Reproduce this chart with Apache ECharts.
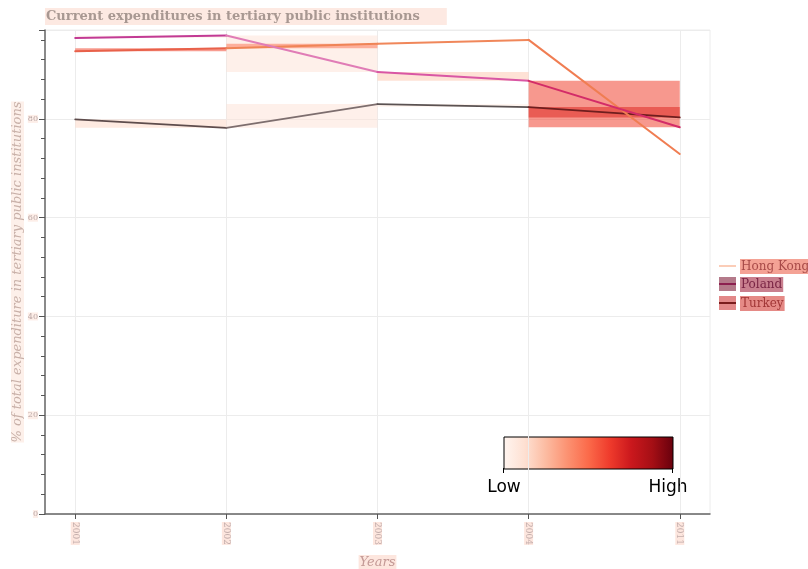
<!DOCTYPE html>
<html><head><meta charset="utf-8">
<script src="https://cdn.jsdelivr.net/npm/echarts@6/dist/echarts.min.js"></script>
<style>html,body{margin:0;padding:0;background:#fff}#c{width:808px;height:569px}</style>
</head><body><div id="c"></div>
<script>
const years = ['2001', '2002', '2003', '2004', '2011'];
const countries = ['Hong Kong', 'Poland', 'Turkey'];
const hongKong = [93.7, 94.3, 95.2, 96.0, 72.9];
const poland = [96.4, 96.9, 89.5, 87.7, 78.3];
const turkey = [79.9, 78.2, 83.0, 82.4, 80.3];
// shading intensity (0 = Low .. 1 = High) of the band between consecutive years
const hongKongShade = [0.58, 0.45, 0, 0];
const polandShade = [0.05, 0.1, 0.2, 0.6];
const turkeyShade = [0.15, 0.1, 0.04, 0.68];

const redsStops = ['#fff5f0', '#fee0d2', '#fcbba1', '#fc9272', '#fb6a4a', '#ef3b2c', '#cb181d', '#a50f15', '#67000d'];
function hex2rgb(h) { return [1, 3, 5].map(i => parseInt(h.substr(i, 2), 16)); }
function reds(t, a) {
  const n = redsStops.length - 1;
  const f = Math.max(0, Math.min(1, t)) * n;
  const i = Math.min(n - 1, Math.floor(f));
  const k = f - i;
  const c0 = hex2rgb(redsStops[i]), c1 = hex2rgb(redsStops[i + 1]);
  const c = c0.map((v, j) => Math.round(v + (c1[j] - v) * k));
  return 'rgba(' + c.join(',') + ',' + a + ')';
}

const seriesVals = { 'Hong Kong': hongKong, 'Poland': poland, 'Turkey': turkey };
const seriesShade = { 'Hong Kong': hongKongShade, 'Poland': polandShade, 'Turkey': turkeyShade };
const segColors = {
  'Hong Kong': ['#e8614a', '#ef8456', '#f0875a', '#f07d52'],
  'Poland': ['#c23a94', '#e07cb6', '#d956a4', '#d32c68'],
  'Turkey': ['#5e4c4c', '#7d6e6e', '#5a5252', '#6e1e1e']
};
const segWidth = { 'Hong Kong': 2, 'Poland': 2, 'Turkey': 1.8 };

const series = [];
// bands
['Poland', 'Turkey', 'Hong Kong'].forEach(name => {
  const v = seriesVals[name], s = seriesShade[name];
  const data = [];
  for (let i = 0; i < v.length - 1; i++) {
    if (!s[i]) continue;
    data.push({ value: [i, i + 1, Math.min(v[i], v[i + 1]), Math.max(v[i], v[i + 1])], itemStyle: { color: reds(s[i], 0.55) } });
  }
  series.push({
    type: 'custom', name: name + ' band', silent: true, z: 1,
    encode: { x: [0, 1], y: [2, 3] },
    renderItem: function (params, api) {
      const p1 = api.coord([api.value(0), api.value(3)]);
      const p2 = api.coord([api.value(1), api.value(2)]);
      return { type: 'rect', shape: { x: p1[0], y: p1[1], width: p2[0] - p1[0], height: Math.max(1, p2[1] - p1[1]) }, style: { fill: api.visual('color') } };
    },
    data: data
  });
});
// line segments
['Turkey', 'Hong Kong', 'Poland'].forEach(name => {
  const v = seriesVals[name];
  for (let i = 0; i < v.length - 1; i++) {
    series.push({
      type: 'line', name: name, silent: true, z: 3, showSymbol: false, animation: false,
      lineStyle: { color: segColors[name][i], width: segWidth[name], cap: 'round' },
      itemStyle: { color: segColors[name][i] },
      data: [[i, v[i]], [i + 1, v[i + 1]]]
    });
  }
});

const serif = 'DejaVu Serif';
const legendRows = [
  { name: 'Hong Kong', y: 266, box: null, line: '#fbcdb8', bg: '#f4a295', fg: '#a84a48' },
  { name: 'Poland', y: 284, box: '#b47a8a', line: '#8c2050', bg: '#c97f8e', fg: '#7a2444' },
  { name: 'Turkey', y: 303, box: '#e28888', line: '#7a1c1c', bg: '#e58a86', fg: '#a03636' }
];
const graphics = [];
legendRows.forEach(r => {
  if (r.box) graphics.push({ type: 'rect', left: 719, top: r.y - 7, shape: { width: 17, height: 14 }, style: { fill: r.box } });
  graphics.push({ type: 'line', shape: { x1: 719, y1: r.y, x2: 736, y2: r.y }, style: { stroke: r.line, lineWidth: 2 } });
  graphics.push({ type: 'text', left: 740, top: r.y - 7, style: { text: r.name, font: '12px "DejaVu Serif"', fill: r.fg, backgroundColor: r.bg, padding: [2, 1, 1, 1] } });
});
// colour bar
graphics.push({
  type: 'rect', left: 503.5, top: 436.5, shape: { width: 169, height: 32 },
  style: { fill: new echarts.graphic.LinearGradient(0, 0, 1, 0, redsStops.map((c, i) => ({ offset: i / (redsStops.length - 1), color: c }))), stroke: '#000', lineWidth: 1 }
});
graphics.push({ type: 'line', shape: { x1: 503.5, y1: 468, x2: 503.5, y2: 473 }, style: { stroke: '#000', lineWidth: 1 } });
graphics.push({ type: 'line', shape: { x1: 672.5, y1: 468, x2: 672.5, y2: 473 }, style: { stroke: '#000', lineWidth: 1 } });
graphics.push({ type: 'text', x: 504, y: 488, style: { text: 'Low', font: '17px "DejaVu Sans"', fill: '#000', align: 'center', verticalAlign: 'middle' } });
graphics.push({ type: 'text', x: 668, y: 488, style: { text: 'High', font: '17px "DejaVu Sans"', fill: '#000', align: 'center', verticalAlign: 'middle' } });

const chart = echarts.init(document.getElementById('c'), null, { renderer: 'canvas' });
chart.setOption({
  animation: false,
  backgroundColor: '#fff',
  title: {
    text: 'Current expenditures in tertiary public institutions',
    left: 45, top: 8,
    padding: [2, 27, 2, 1],
    backgroundColor: '#fde9e2',
    textStyle: { fontFamily: serif, fontWeight: 'bold', fontSize: 13, color: '#a89892' }
  },
  grid: { left: 45, right: 98, top: 30, bottom: 55, show: true, borderColor: '#ececec', borderWidth: 1, containLabel: false, outerBoundsMode: 'none' },
  xAxis: {
    type: 'value', min: -0.2, max: 4.2,
    name: 'Years', nameLocation: 'middle', nameGap: 41, nameMoveOverlap: false,
    nameTextStyle: { fontFamily: serif, fontStyle: 'italic', fontSize: 13, color: '#c49a96', backgroundColor: '#fde6de', padding: [1, 1, 1, 1] },
    axisLine: { show: true, onZero: false, lineStyle: { color: '#666', width: 1.5 } },
    axisTick: { show: true, length: 5, customValues: [0, 1, 2, 3, 4], lineStyle: { color: '#555' } },
    axisLabel: {
      customValues: [0, 1, 2, 3, 4], rotate: -90, margin: 8,
      formatter: v => years[Math.round(v)],
      fontFamily: serif, fontSize: 9, color: '#c4aeac', backgroundColor: '#fde6de'
    },
    splitLine: { show: true, lineStyle: { color: '#ececec' } }
  },
  yAxis: {
    type: 'value', min: 0, max: 98, interval: 20,
    name: '% of total expenditure in tertiary public institutions', nameLocation: 'middle', nameGap: 21, nameMoveOverlap: false,
    nameTextStyle: { fontFamily: serif, fontStyle: 'italic', fontSize: 13, color: '#c8b0a8', backgroundColor: '#fdf0ea' },
    axisLine: { show: true, onZero: false, lineStyle: { color: '#666', width: 1.5 } },
    axisTick: { show: true, length: 6, lineStyle: { color: '#555' } },
    minorTick: { show: true, splitNumber: 5, length: 4, lineStyle: { color: '#555' } },
    axisLabel: {
      showMaxLabel: false, margin: 7,
      fontFamily: serif, fontSize: 8, color: '#bba8a6', backgroundColor: '#fdeee8'
    },
    splitLine: { show: true, lineStyle: { color: '#ececec' } }
  },
  graphic: graphics,
  series: series
});
</script>
</body></html>
